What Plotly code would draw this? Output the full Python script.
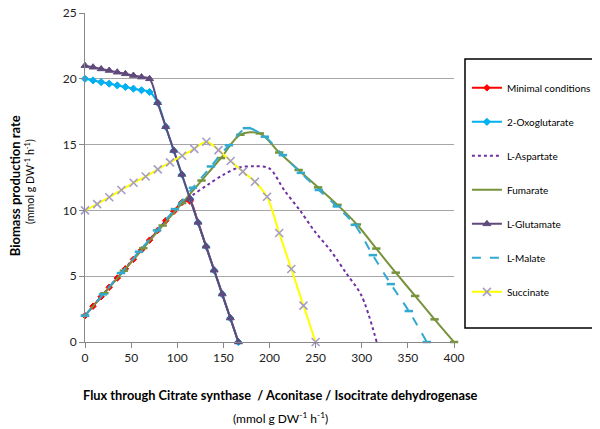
import plotly.graph_objects as go

# ---------------- data ----------------
glu_x = [0, 8.75, 17.5, 26.25, 35, 43.75, 52.5, 61.25, 70, 78.75, 87.5, 96.25, 105, 113.75, 122.5, 131.25, 140, 148.75, 157.5, 166.25]
glu_y = [21.0, 20.88, 20.75, 20.63, 20.5, 20.38, 20.25, 20.13, 20.0, 18.18, 16.36, 14.55, 12.73, 10.91, 9.09, 7.27, 5.45, 3.64, 1.82, 0.0]

oxo_x = [0, 8.75, 17.5, 26.25, 35, 43.75, 52.5, 61.25, 70, 78.75, 87.5, 96.25, 105, 113.75, 122.5, 131.25, 140, 148.75, 157.5, 166.25]
oxo_y = [20.0, 19.88, 19.75, 19.63, 19.5, 19.38, 19.25, 19.13, 19.0, 18.18, 16.36, 14.55, 12.73, 10.91, 9.09, 7.27, 5.45, 3.64, 1.82, 0.0]

min_x = [0, 8.75, 17.5, 26.25, 35, 43.75, 52.5, 61.25, 70, 78.75, 87.5, 96.25, 105, 113.75, 122.5, 131.25, 140, 148.75, 157.5, 166.25]
min_y = [2.0, 2.72, 3.44, 4.16, 4.86, 5.56, 6.28, 7.0, 7.74, 8.48, 9.22, 9.92, 10.6, 10.7, 9.09, 7.27, 5.45, 3.64, 1.82, 0.0]

asp_x = [0, 16.64, 33.28, 49.92, 66.56, 83.2, 99.84, 116.48, 133.12, 149.76, 166.4, 183.04, 199.68, 216.32, 232.96, 249.6, 266.24, 282.88, 299.52, 316.2]
asp_y = [2.0, 3.37, 4.75, 6.12, 7.5, 8.87, 10.24, 11.15, 11.95, 12.7, 13.25, 13.35, 13.2, 11.5, 10.0, 8.35, 6.95, 5.25, 3.55, 0.0]

fum_x = [0, 21.05, 42.11, 63.16, 84.21, 105.26, 126.32, 147.37, 168.42, 189.47, 210.53, 231.58, 252.63, 273.68, 294.74, 315.79, 336.84, 357.89, 378.95, 400]
fum_y = [2.0, 3.71, 5.42, 7.13, 8.85, 10.56, 12.27, 13.98, 15.75, 15.85, 14.4, 13.07, 11.75, 10.42, 8.93, 7.1, 5.27, 3.5, 1.72, 0.0]

mal_x = [0, 19.5, 39, 58.5, 78, 97.5, 117, 136.5, 156, 175.5, 195, 214.5, 234, 253.5, 273, 292.5, 312, 331.5, 351, 370.5]
mal_y = [2.0, 3.62, 5.24, 6.86, 8.48, 10.1, 11.72, 13.34, 14.95, 16.25, 15.6, 14.2, 12.85, 11.55, 10.3, 8.9, 6.6, 4.4, 2.35, 0.0]

suc_x = [0, 13.16, 26.32, 39.47, 52.63, 65.79, 78.95, 92.11, 105.26, 118.42, 131.58, 144.74, 157.89, 171.05, 184.21, 197.37, 210.53, 223.68, 236.84, 250]
suc_y = [10.0, 10.48, 11.0, 11.55, 12.1, 12.58, 13.12, 13.65, 14.15, 14.68, 15.22, 14.58, 13.75, 12.95, 12.18, 11.04, 8.28, 5.55, 2.76, 0.0]

x_ticks = [0, 50, 100, 150, 200, 250, 300, 350, 400]
y_ticks = [0, 5, 10, 15, 20, 25]

FONT = "Lato"
OFF = 8  # page body margin of the html page

fig = go.Figure()

def add(name, x, y, color, dash="solid", width=2, msym=None, msize=6, mcolor=None,
        mlw=1, legend_marker=True):
    mode = "lines+markers" if (msym and legend_marker) else "lines"
    marker = dict(symbol=msym, size=msize, color=mcolor or color,
                  line=dict(color=mcolor or color, width=mlw)) if (msym and legend_marker) else None
    fig.add_trace(go.Scatter(
        x=x, y=y, name=name, mode=mode,
        line=dict(color=color, width=width, dash=dash, shape="spline", smoothing=0.9),
        marker=marker, cliponaxis=False, legendgroup=name))
    if msym and not legend_marker:
        fig.add_trace(go.Scatter(
            x=x, y=y, mode="markers", showlegend=False, legendgroup=name,
            marker=dict(symbol=msym, size=msize, color=mcolor or color,
                        line=dict(color=mcolor or color, width=2.5)),
            cliponaxis=False, hoverinfo="skip"))

add("Minimal conditions", min_x, min_y, "#ff0000", msym="diamond", msize=5)
add("2-Oxoglutarate", oxo_x, oxo_y, "#00b0f0", msym="diamond", msize=5.5)
add("L-Aspartate", asp_x, asp_y, "#7030a0", dash="dot", width=2)
add("Fumarate", fum_x, fum_y, "#77933c", msym="line-ew", msize=6, legend_marker=False)
add("L-Glutamate", glu_x, glu_y, "#604a7b", msym="triangle-up", msize=7)
add("L-Malate", mal_x, mal_y, "#31a9d0", dash="dash", msym="line-ew", msize=6,
    legend_marker=False)
add("Succinate", suc_x, suc_y, "#ffff00", msym="x-thin-open", msize=8, mcolor="#a59cc8", mlw=1.6)

sup = "(mmol g DW<sup>-1</sup> h<sup>-1</sup>)"
annotations = [
    dict(text="<b>Biomass production rate</b>", x=-0.189, y=0.474, xref="paper", yref="paper",
         textangle=-90, showarrow=False, xanchor="center", yanchor="middle",
         font=dict(family=FONT, size=13, color="#000")),
    dict(text=sup, x=-0.152, y=0.489, xref="paper", yref="paper",
         textangle=-90, showarrow=False, xanchor="center", yanchor="middle",
         font=dict(family=FONT, size=10.7, color="#000")),
    dict(text="<b>Flux through Citrate synthase  / Aconitase / Isocitrate dehydrogenase</b>",
         x=0.531, y=-0.161, xref="paper", yref="paper", showarrow=False,
         xanchor="center", yanchor="middle", font=dict(family=FONT, size=12.8, color="#000")),
    dict(text=sup, x=0.531, y=-0.232, xref="paper", yref="paper", showarrow=False,
         xanchor="center", yanchor="middle", font=dict(family=FONT, size=12, color="#000")),
]

W, H = 600 - OFF, 429 - OFF
fig.update_layout(
    width=W, height=H,
    margin=dict(l=85 - OFF, r=W - (454 - OFF), t=13 - OFF, b=H - (342 - OFF), autoexpand=False),
    paper_bgcolor="white", plot_bgcolor="white",
    font=dict(family=FONT, size=11, color="#222"),
    annotations=annotations,
    shapes=[dict(type="rect", xref="paper", yref="paper", x0=1.0298, x1=1.3794,
                 y0=0.0426, y1=0.8602, line=dict(color="#000", width=1.5))],
    legend=dict(x=1.035, y=0.8165, xanchor="left", yanchor="top",
                bgcolor="rgba(0,0,0,0)", borderwidth=0,
                font=dict(family=FONT, size=10, color="#000"),
                tracegroupgap=15, itemwidth=30),
    showlegend=True,
)
fig.update_xaxes(range=[0, 400], tickvals=x_ticks, showgrid=False, zeroline=False,
                 showline=True, linecolor="#888", linewidth=1, ticks="outside",
                 ticklen=5, tickcolor="#888", automargin=False, ticklabeloverflow="allow",
                 tickfont=dict(family=FONT, size=12, color="#222"))
fig.update_yaxes(range=[0, 25], tickvals=y_ticks, showgrid=True, gridcolor="#a6a6a6",
                 gridwidth=1, zeroline=False, showline=True, linecolor="#888", linewidth=1,
                 ticks="outside", ticklen=5, tickcolor="#888", automargin=False,
                 ticklabeloverflow="allow",
                 tickfont=dict(family=FONT, size=12, color="#222"))

fig.write_html("out.html")
